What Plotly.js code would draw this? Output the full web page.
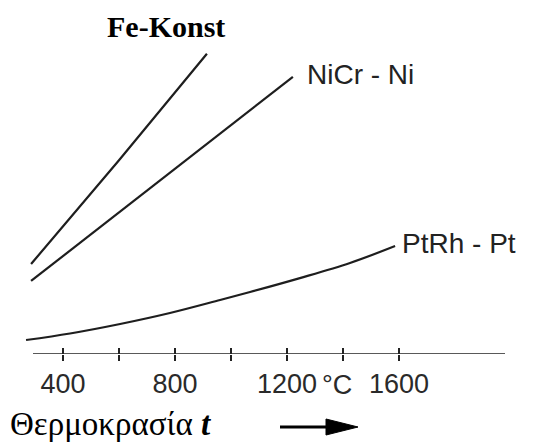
<!DOCTYPE html>
<html>
<head>
<meta charset="utf-8">
<script src="https://cdn.plot.ly/plotly-3.0.1.min.js"></script>
<style>html,body{margin:0;padding:0;background:#fff;}#chart{width:537px;height:442px;}</style>
</head>
<body>
<div id="chart"></div>
<script>
// Thermocouple voltage vs temperature (y in mV-like units)
const feKonstT = [286, 600, 914];
const feKonstV = [15.65, 33.7, 52.2];
const nicrNiT = [286, 961, 1221];
const nicrNiV = [12.7, 38.4, 48.2];
const ptrhPtT = [268, 425, 604, 782, 961, 1068, 1246, 1425, 1586];
const ptrhPtV = [2.43, 3.57, 5.22, 7.13, 9.39, 10.78, 13.2, 15.83, 18.78];
const tickVals = [400, 600, 800, 1000, 1200, 1400, 1600];
const tickText = ["400", "", "800", "", "1200", "", "1600"];
const seriesNames = ["Fe-Konst", "NiCr - Ni", "PtRh - Pt"];

const W = 537, H = 442, ML = 24, MR = 32, MT = 40, MB = 88;
const PW = W - ML - MR, PH = H - MT - MB;
const px = x => (x - ML) / PW;
const py = y => (H - MB - y) / PH;

const lineStyle = {color: '#1e1e1e', width: 2.2};
const traces = [
  {x: feKonstT, y: feKonstV, mode: 'lines', line: lineStyle, name: seriesNames[0], hoverinfo: 'skip'},
  {x: nicrNiT, y: nicrNiV, mode: 'lines', line: lineStyle, name: seriesNames[1], hoverinfo: 'skip'},
  {x: ptrhPtT, y: ptrhPtV, mode: 'lines', line: {color: '#1e1e1e', width: 2.2, shape: 'spline', smoothing: 1}, name: seriesNames[2], hoverinfo: 'skip'},
  {x: [tickVals[0]], y: [0], xaxis: 'x2', mode: 'markers', marker: {opacity: 0}, showlegend: false, hoverinfo: 'skip'}
];

const sans = "Liberation Sans, Arial, sans-serif";
const serif = "Liberation Serif, Times New Roman, serif";
const xr = [400 - 39 / 0.28, 400 + 442 / 0.28];

const layout = {
  width: W, height: H,
  margin: {l: ML, r: MR, t: MT, b: MB, pad: 0},
  paper_bgcolor: '#fff', plot_bgcolor: '#fff',
  showlegend: false,
  xaxis: {
    range: xr, showgrid: false, zeroline: false, showline: false,
    tickmode: 'array', tickvals: tickVals, ticktext: tickText,
    ticks: 'outside', ticklen: 6, tickwidth: 1.4, tickcolor: '#222',
    tickfont: {family: sans, size: 27, color: '#2a2a2a'}
  },
  xaxis2: {
    overlaying: 'x', matches: 'x', anchor: 'y', side: 'bottom',
    range: xr, showgrid: false, zeroline: false, showline: false,
    tickmode: 'array', tickvals: tickVals, showticklabels: false,
    ticks: 'inside', ticklen: 6, tickwidth: 1.4, tickcolor: '#222'
  },
  yaxis: {range: [0, 54.6], visible: false, fixedrange: true},
  annotations: [
    {xref: 'paper', yref: 'paper', x: px(166), y: py(26), text: '<b>' + seriesNames[0] + '</b>', showarrow: false,
     xanchor: 'center', yanchor: 'middle', font: {family: serif, size: 30, color: '#000'}},
    {xref: 'paper', yref: 'paper', x: px(305), y: py(74), text: seriesNames[1], showarrow: false,
     xanchor: 'left', yanchor: 'middle', font: {family: sans, size: 28, color: '#222'}},
    {xref: 'paper', yref: 'paper', x: px(400), y: py(243), text: seriesNames[2], showarrow: false,
     xanchor: 'left', yanchor: 'middle', font: {family: sans, size: 28, color: '#222'}},
    {xref: 'paper', yref: 'paper', x: px(337), y: py(385), text: '°C', showarrow: false,
     xanchor: 'center', yanchor: 'middle', font: {family: sans, size: 27, color: '#2a2a2a'}},
    {xref: 'paper', yref: 'paper', x: px(8), y: py(424), text: 'Θερμοκρασία <b><i>t</i></b>', showarrow: false,
     xanchor: 'left', yanchor: 'middle', font: {family: serif, size: 33, color: '#000'}}
  ],
  shapes: [
    {type: 'line', xref: 'paper', yref: 'y', x0: px(33), x1: px(505), y0: 0, y1: 0,
     line: {color: '#222', width: 1.6}},
    {type: 'line', xref: 'paper', yref: 'paper', x0: px(280), x1: px(330), y0: py(427), y1: py(427),
     line: {color: '#000', width: 3}},
    {type: 'path', xref: 'paper', yref: 'paper',
     path: 'M ' + px(326) + ' ' + py(419) + ' L ' + px(358) + ' ' + py(427) + ' L ' + px(326) + ' ' + py(435) + ' Z',
     fillcolor: '#000', line: {color: '#000', width: 1}}
  ]
};

Plotly.newPlot('chart', traces, layout, {staticPlot: true, displayModeBar: false});
</script>
</body>
</html>
